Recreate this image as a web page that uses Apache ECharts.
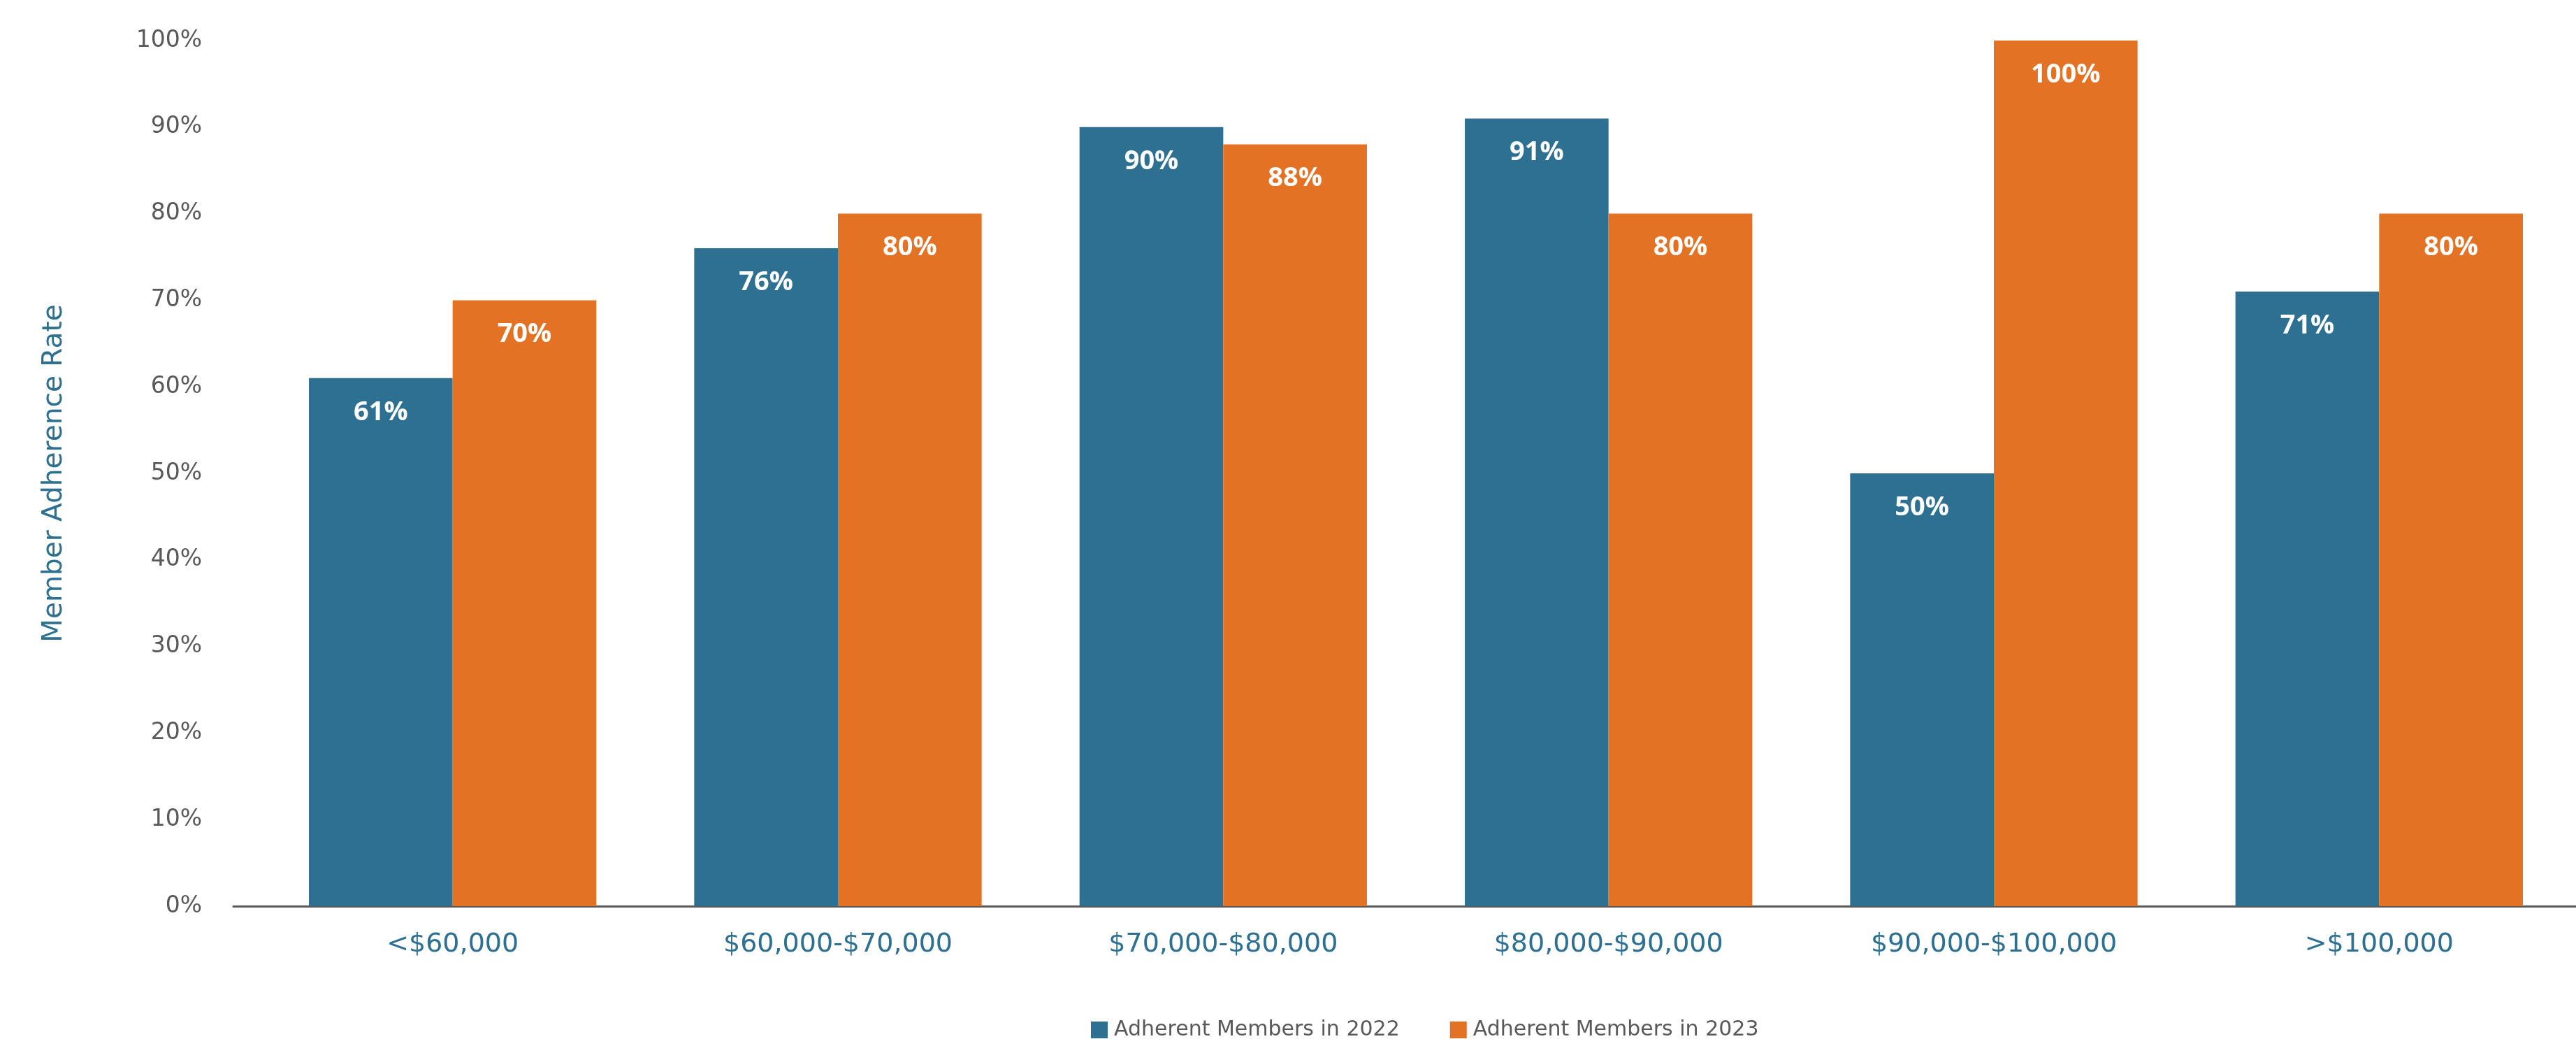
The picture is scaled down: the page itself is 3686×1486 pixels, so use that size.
<!DOCTYPE html>
<html>
<head>
<meta charset="utf-8">
<title>Member Adherence Rate by Income</title>
<script src="https://cdn.jsdelivr.net/npm/echarts@6/dist/echarts.min.js"></script>
<style>
  html, body { margin: 0; padding: 0; background: #ffffff; }
  #chart { width: 3686px; height: 1486px; }
</style>
</head>
<body>
<div id="chart"></div>
<script>
// Income brackets along the x axis
const categories = ['<$60,000', '$60,000-$70,000', '$70,000-$80,000', '$80,000-$90,000', '$90,000-$100,000', '>$100,000'];
// Adherence rates (%) per bracket
const adherent2022 = [61, 76, 90, 91, 50, 71];
const adherent2023 = [70, 80, 88, 80, 100, 80];
const seriesNames = ['Adherent Members in 2022', 'Adherent Members in 2023'];
const yTicks = { min: 0, max: 100, interval: 10 };

const BLUE = '#2E7091';
const ORANGE = '#E37225';
const FONT = '"DejaVu Sans", sans-serif';

const chart = echarts.init(document.getElementById('chart'), null, { renderer: 'canvas' });

const barLabel = {
  show: true,
  position: 'insideTop',
  distance: 30,
  color: '#ffffff',
  fontFamily: '"Open Sans", sans-serif',
  fontWeight: 'bold',
  fontSize: 38,
  formatter: p => p.value + '%'
};

chart.setOption({
  animation: false,
  backgroundColor: '#ffffff',
  grid: [
    { left: 372, right: 6, top: 58, bottom: 190, containLabel: false },
    // wider grid used only for the baseline, which runs past the first band
    { left: 334, right: 0, top: 58, bottom: 190, containLabel: false }
  ],
  legend: {
    data: seriesNames,
    left: 1556,
    top: 1453,
    icon: 'rect',
    itemWidth: 24,
    itemHeight: 24,
    itemGap: 72,
    textStyle: { color: '#595959', fontFamily: FONT, fontSize: 30, padding: [0, 0, 0, 4] }
  },
  xAxis: [
    {
      type: 'category',
      gridIndex: 0,
      data: categories,
      axisLine: { show: false },
      axisTick: { show: false },
      axisLabel: { color: '#2E7091', fontFamily: FONT, fontSize: 38, margin: 36, interval: 0 }
    },
    {
      type: 'value',
      gridIndex: 1,
      min: 0, max: 1,
      axisLine: { show: true, onZero: false, lineStyle: { color: '#5a5a5a', width: 3 } },
      axisTick: { show: false },
      axisLabel: { show: false },
      splitLine: { show: false }
    }
  ],
  yAxis: [
    {
      type: 'value',
      gridIndex: 0,
      min: yTicks.min,
      max: yTicks.max,
      interval: yTicks.interval,
      name: 'Member Adherence Rate',
      nameLocation: 'middle',
      nameRotate: 90,
      nameGap: 275,
      nameTextStyle: { color: '#2E7091', fontFamily: FONT, fontSize: 39 },
      axisLine: { show: false },
      axisTick: { show: false },
      splitLine: { show: false },
      axisLabel: { color: '#595959', fontFamily: FONT, fontSize: 33, margin: 83, formatter: '{value}%' }
    },
    {
      type: 'value',
      gridIndex: 1,
      show: false
    }
  ],
  series: [
    {
      name: seriesNames[0],
      type: 'bar',
      xAxisIndex: 0,
      yAxisIndex: 0,
      data: adherent2022,
      barGap: '0%',
      barCategoryGap: '25.4%',
      itemStyle: { color: BLUE },
      label: barLabel
    },
    {
      name: seriesNames[1],
      type: 'bar',
      xAxisIndex: 0,
      yAxisIndex: 0,
      data: adherent2023,
      barGap: '0%',
      barCategoryGap: '25.4%',
      itemStyle: { color: ORANGE },
      label: barLabel
    }
  ]
});
</script>
</body>
</html>
